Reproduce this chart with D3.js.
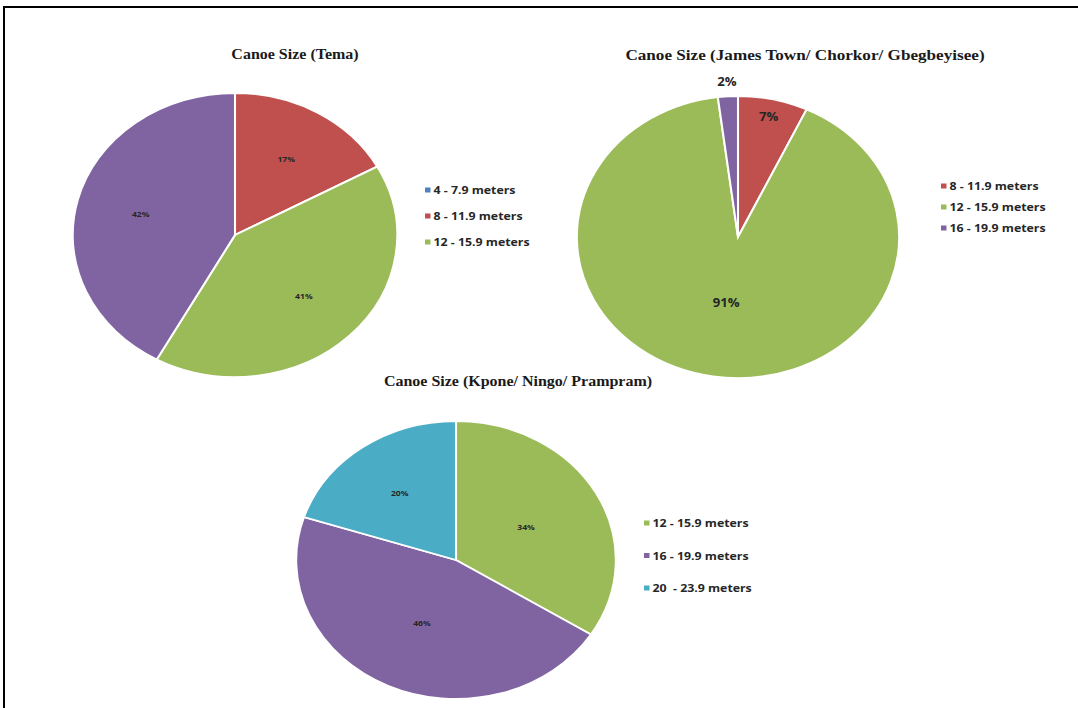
<!DOCTYPE html>
<html><head><meta charset="utf-8">
<script src="https://cdn.jsdelivr.net/npm/d3@7/dist/d3.min.js"></script>
<style>body{margin:0;background:#fff}svg{display:block}text{white-space:pre}</style>
</head><body>
<svg id="c" width="1078" height="708"></svg>
<script>
// Data
const temaCategories = ["4 - 7.9 meters", "8 - 11.9 meters", "12 - 15.9 meters", "16 - 19.9 meters"];
const temaValues = [0, 17, 41, 42];
const temaLegend = ["4 - 7.9 meters", "8 - 11.9 meters", "12 - 15.9 meters"];

const jamesCategories = ["8 - 11.9 meters", "12 - 15.9 meters", "16 - 19.9 meters"];
const jamesValues = [7, 91, 2];

const kponeCategories = ["12 - 15.9 meters", "16 - 19.9 meters", "20  - 23.9 meters"];
const kponeValues = [34, 46, 20];

const colorMap = {
  "4 - 7.9 meters": "#4F81BD",
  "8 - 11.9 meters": "#C0504D",
  "12 - 15.9 meters": "#9BBB59",
  "16 - 19.9 meters": "#8064A2",
  "20  - 23.9 meters": "#4BACC6"
};

const SX = 1.143;
const svg = d3.select("#c");
// frame
svg.append("path").attr("d", "M4,708 L4,7 L1078,7").attr("fill", "none").attr("stroke", "#000").attr("stroke-width", 2);

function stext(parent, x, y, txt) {
  return parent.append("text").attr("transform", `translate(${x},${y}) scale(${SX},1)`).text(txt);
}

function drawPie(cfg) {
  const g = svg.append("g").attr("transform", `translate(${cfg.cx},${cfg.cy})`);
  const pie = d3.pie().sort(null).value(d => d.v);
  const data = cfg.cats.map((c, i) => ({c, v: cfg.vals[i], i}));
  const arcs = pie(data);
  const arc = d3.arc().innerRadius(0).outerRadius(cfg.r);
  const pg = g.append("g").attr("transform", `scale(${cfg.sx},1)`);
  pg.selectAll("path").data(arcs.filter(a => a.data.v > 0)).join("path")
    .attr("d", arc).attr("fill", d => colorMap[d.data.c])
    .attr("stroke", "#fff").attr("stroke-width", 1.8);
  arcs.filter(a => a.data.v > 0).forEach(a => {
    const lr = cfg.r * cfg.labelFrac[a.index];
    const la = d3.arc().innerRadius(lr).outerRadius(lr);
    const [x, y] = la.centroid(a);
    stext(g, x * cfg.sx, y, a.data.v + "%")
      .attr("text-anchor", "middle").attr("dominant-baseline", "central")
      .attr("font-family", "Open Sans, sans-serif").attr("font-weight", "bold")
      .attr("font-size", cfg.labelSize).attr("fill", "#262626");
  });
  stext(svg, cfg.tx, cfg.ty, cfg.title).attr("text-anchor", "middle")
    .attr("font-family", "Liberation Serif, Times New Roman, serif").attr("font-weight", "bold")
    .attr("font-size", cfg.titleSize).attr("fill", "#1a1a1a");
  const lg = svg.append("g");
  cfg.legend.forEach((c, i) => {
    const y = cfg.ly + i * cfg.lstep;
    lg.append("rect").attr("x", cfg.lx).attr("y", y - 2.5).attr("width", 5.5).attr("height", 5).attr("fill", colorMap[c]);
    stext(lg, cfg.lx + 8.5, y, c).attr("dominant-baseline", "central")
      .attr("font-family", "Open Sans, sans-serif").attr("font-weight", "bold").attr("font-size", 10.8)
      .attr("fill", "#262626");
  });
}

drawPie({cx: 235, cy: 235, r: 142, sx: SX, cats: temaCategories, vals: temaValues,
  labelFrac: [0.6, 0.62, 0.6, 0.6], labelSize: 7.5, title: "Canoe Size (Tema)", titleSize: 14, tx: 295, ty: 59,
  legend: temaLegend, lx: 425, ly: 190, lstep: 26});
drawPie({cx: 738, cy: 237, r: 141, sx: SX, cats: jamesCategories, vals: jamesValues,
  labelFrac: [0.87, 0.47, 1.1], labelSize: 11.5, title: "Canoe Size (James Town/ Chorkor/ Gbegbeyisee)", titleSize: 15, tx: 805, ty: 60,
  legend: jamesCategories, lx: 941, ly: 186, lstep: 21});
drawPie({cx: 456, cy: 560, r: 139, sx: 1.15, cats: kponeCategories, vals: kponeValues,
  labelFrac: [0.5, 0.5, 0.6], labelSize: 7.5, title: "Canoe Size (Kpone/ Ningo/ Prampram)", titleSize: 14, tx: 518, ty: 386,
  legend: kponeCategories, lx: 644, ly: 523, lstep: 32.5});
</script>
</body></html>
